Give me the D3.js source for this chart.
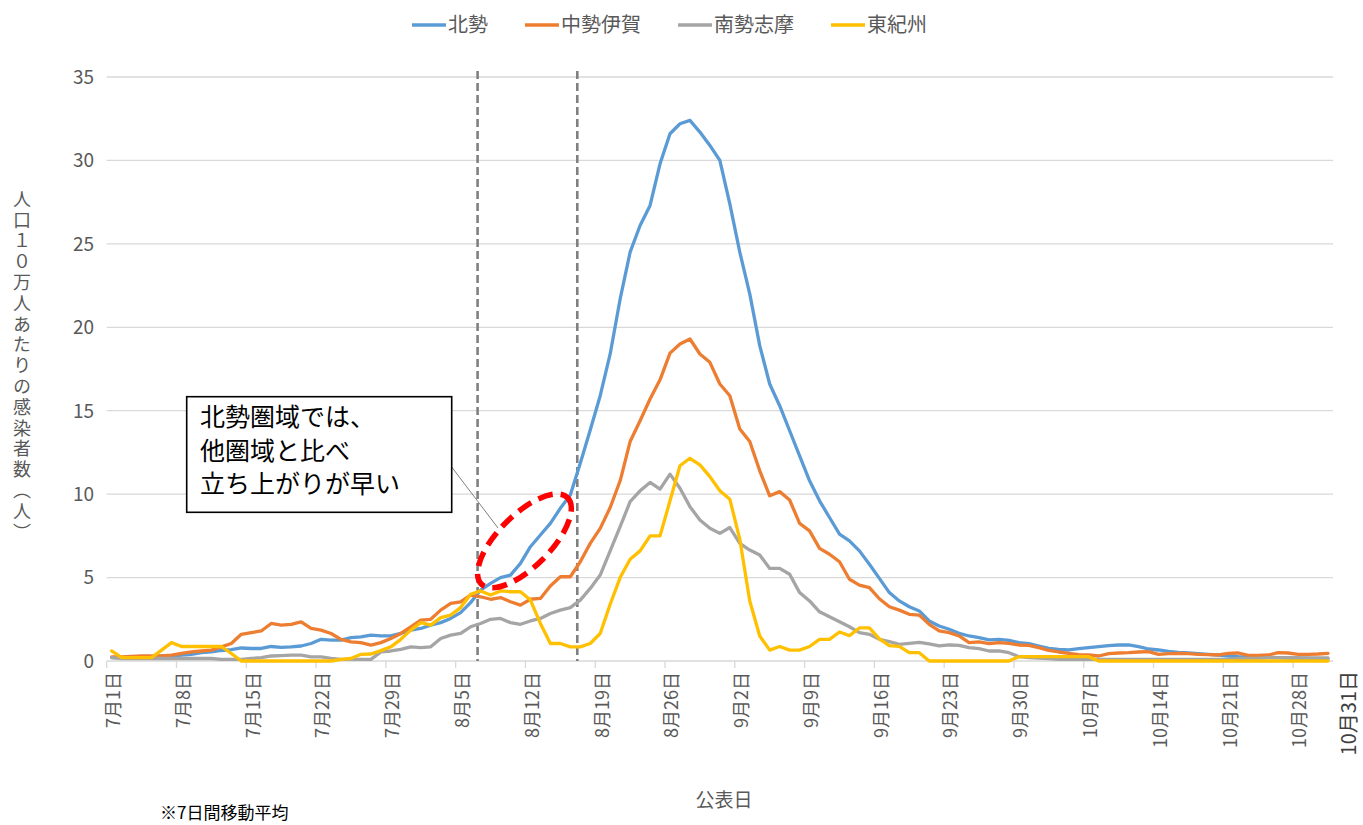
<!DOCTYPE html>
<html><head><meta charset="utf-8">
<script src="https://cdn.jsdelivr.net/npm/d3@7"></script>
<style>
html,body{margin:0;padding:0;background:#fff;}
svg{display:block;font-family:"Noto Sans CJK JP","Noto Sans",sans-serif;}
</style></head>
<body><svg id="c" width="1363" height="825"></svg>
<script>
// ---- data (7-day moving average, per 100k population), 2021-07-01 .. 2021-10-31 ----
const seriesNames = ["北勢","中勢伊賀","南勢志摩","東紀州"];
const seriesColors = ["#5B9BD5","#ED7D31","#A5A5A5","#FFC000"];
const hokusei = [0.2,0.2,0.2,0.2,0.25,0.3,0.3,0.35,0.4,0.5,0.55,0.63,0.68,0.78,0.75,0.75,0.87,0.82,0.85,0.9,
 1.05,1.3,1.25,1.25,1.4,1.45,1.55,1.5,1.5,1.65,1.85,1.95,2.15,2.3,2.55,2.9,3.5,4.25,4.65,5.0,
 5.15,5.85,6.85,7.55,8.25,9.15,9.95,11.85,13.85,15.9,18.4,21.7,24.5,26.1,27.3,29.8,31.6,32.2,32.4,31.7,
 30.9,30.0,27.4,24.5,22.0,18.9,16.6,15.3,13.8,12.3,10.8,9.6,8.6,7.6,7.2,6.6,5.8,4.95,4.1,3.6,
 3.25,3.0,2.4,2.1,1.9,1.66,1.5,1.4,1.26,1.3,1.24,1.1,1.04,0.9,0.76,0.7,0.66,0.74,0.8,0.86,
 0.92,0.96,0.96,0.86,0.72,0.66,0.58,0.52,0.48,0.44,0.4,0.36,0.3,0.26,0.24,0.22,0.22,0.2,0.18,0.16,
 0.15,0.14,0.14];
const chuseiIga = [0.25,0.25,0.28,0.3,0.3,0.3,0.35,0.45,0.55,0.6,0.65,0.85,1.05,1.6,1.7,1.8,2.25,2.15,2.2,2.35,
 1.95,1.85,1.65,1.3,1.15,1.1,0.95,1.1,1.35,1.65,2.05,2.45,2.5,3.05,3.45,3.55,3.95,3.85,3.7,3.8,
 3.55,3.35,3.7,3.75,4.5,5.05,5.05,5.95,7.05,7.95,9.2,10.8,13.15,14.4,15.7,16.85,18.45,19.0,19.3,18.4,
 17.9,16.6,15.9,13.9,13.15,11.4,9.9,10.15,9.65,8.25,7.8,6.75,6.4,5.95,4.9,4.55,4.4,3.73,3.25,3.05,
 2.8,2.75,2.2,1.8,1.7,1.5,1.1,1.14,1.04,1.1,1.06,0.96,0.94,0.8,0.64,0.54,0.46,0.38,0.36,0.3,
 0.44,0.48,0.5,0.54,0.56,0.4,0.44,0.46,0.44,0.4,0.38,0.36,0.46,0.48,0.34,0.34,0.36,0.5,0.48,0.4,
 0.4,0.42,0.46];
const nanseiShima = [0.2,0.15,0.15,0.15,0.15,0.15,0.15,0.15,0.15,0.15,0.15,0.1,0.1,0.1,0.15,0.2,0.3,0.32,0.35,0.35,
 0.25,0.25,0.15,0.1,0.1,0.1,0.1,0.55,0.6,0.7,0.85,0.8,0.85,1.35,1.55,1.65,2.05,2.25,2.5,2.55,
 2.3,2.2,2.4,2.55,2.85,3.05,3.2,3.65,4.35,5.15,6.6,8.05,9.55,10.2,10.7,10.3,11.2,10.35,9.25,8.45,
 7.95,7.65,8.0,7.05,6.65,6.35,5.55,5.55,5.2,4.1,3.6,2.95,2.65,2.35,2.05,1.7,1.6,1.3,1.16,1.0,
 1.06,1.12,1.02,0.9,0.96,0.94,0.8,0.74,0.6,0.6,0.5,0.26,0.2,0.18,0.14,0.1,0.1,0.1,0.1,0.1,
 0.1,0.1,0.1,0.1,0.1,0.1,0.1,0.1,0.1,0.1,0.1,0.1,0.1,0.15,0.15,0.15,0.2,0.2,0.2,0.2,
 0.18,0.18,0.18];
const higashiKishu = [0.6,0.2,0.2,0.2,0.2,0.65,1.1,0.87,0.87,0.87,0.87,0.87,0.45,0,0,0,0,0,0,0,
 0,0,0,0.1,0.15,0.4,0.42,0.62,0.85,1.3,1.85,2.3,2.15,2.6,2.75,3.2,4.0,4.2,3.95,4.2,
 4.15,4.15,3.65,2.25,1.05,1.05,0.85,0.85,1.05,1.65,3.4,5.0,6.1,6.6,7.5,7.5,9.6,11.7,12.15,11.75,
 11.05,10.2,9.7,7.3,3.6,1.5,0.65,0.87,0.65,0.65,0.87,1.3,1.3,1.74,1.52,1.98,1.98,1.32,0.92,0.88,
 0.5,0.5,0,0,0,0,0,0,0,0,0,0.26,0.26,0.26,0.26,0.26,0.26,0.26,0.26,0,
 0,0,0,0,0,0,0,0,0,0,0,0,0,0,0,0,0,0,0,0,
 0,0,0];
const tickLabels = ["7月1日","7月8日","7月15日","7月22日","7月29日","8月5日","8月12日","8月19日","8月26日",
 "9月2日","9月9日","9月16日","9月23日","9月30日","10月7日","10月14日","10月21日","10月28日"];
const tickDayIndex = [0,7,14,21,28,35,42,49,56,63,70,77,84,91,98,105,112,119];
const endLabel = "10月31日";
const yTicks = [0,5,10,15,20,25,30,35];
const markerDays = [37,47];          // dashed vertical markers (8/7, 8/17)
const allSeries = [hokusei, chuseiIga, nanseiShima, higashiKishu];

// ---- layout ----
const svg = d3.select("#c");
const L = 106.7, R = 1333, T = 77, B = 661;
const nDays = hokusei.length;
const x = d3.scaleBand().domain(d3.range(nDays)).range([L, R]).paddingInner(0).paddingOuter(0);
const y = d3.scaleLinear().domain([0,35]).range([B, T]);
const cx = i => x(i) + x.bandwidth()/2;
const grey = "#595959";

// gridlines
svg.append("g").selectAll("line").data(yTicks.filter(v=>v>0)).join("line")
  .attr("x1", L).attr("x2", R).attr("y1", d=>y(d)).attr("y2", d=>y(d))
  .attr("stroke", "#D9D9D9").attr("stroke-width", 1.3);

// y tick labels
svg.append("g").selectAll("text").data(yTicks).join("text")
  .attr("x", 94).attr("y", d=>y(d)).attr("dy","0.36em").attr("text-anchor","end")
  .attr("font-size", 19).attr("fill", grey).text(d=>d);

// x axis line and ticks
svg.append("line").attr("x1",L).attr("x2",R).attr("y1",B).attr("y2",B).attr("stroke","#D9D9D9").attr("stroke-width",1.3);
svg.append("g").selectAll("line").data(tickDayIndex).join("line")
  .attr("x1", d=>x(d)).attr("x2", d=>x(d)).attr("y1", B).attr("y2", B+7)
  .attr("stroke","#D9D9D9").attr("stroke-width",1.3);

// x tick labels (rotated)
svg.append("g").selectAll("text").data(tickDayIndex).join("text")
  .attr("transform", (d)=>`translate(${cx(d)+2},${B+11}) rotate(-90)`)
  .attr("text-anchor","end").attr("dy","0.35em")
  .attr("font-size", 18).attr("fill", grey)
  .text((d,i)=>tickLabels[i]);
svg.append("text")
  .attr("transform", `translate(${cx(nDays-1)+21},${B+10}) rotate(-90)`)
  .attr("text-anchor","end").attr("dy","0.35em")
  .attr("font-size", 20).attr("fill", "#404040").text(endLabel);

// dashed markers
svg.append("g").selectAll("line").data(markerDays).join("line")
  .attr("x1", d=>x(d)+2).attr("x2", d=>x(d)+2).attr("y1", 71).attr("y2", B)
  .attr("stroke","#808080").attr("stroke-width",2.6).attr("stroke-dasharray","8,4");

// series lines
const line = d3.line().x((d,i)=>cx(i)).y(d=>y(d));
svg.append("g").selectAll("path").data(allSeries).join("path")
  .attr("d", d=>line(d)).attr("fill","none")
  .attr("stroke",(d,i)=>seriesColors[i]).attr("stroke-width",3.3)
  .attr("stroke-linejoin","round").attr("stroke-linecap","round");

// red dashed ellipse annotation
const ex = cx(41) + 4, ey = y(7.2);
svg.append("ellipse").attr("cx",0).attr("cy",0).attr("rx",61).attr("ry",26)
  .attr("transform",`translate(${ex},${ey}) rotate(-45)`)
  .attr("fill","none").attr("stroke","#FF0000").attr("stroke-width",5.5)
  .attr("stroke-dasharray","15,8");

// callout box
const bx0 = 186.7, by0 = 396.7, bx1 = 451.7, by1 = 512.3;
svg.append("line").attr("x1",bx1).attr("y1",467).attr("x2",498).attr("y2",528)
  .attr("stroke","#7F7F7F").attr("stroke-width",1);
svg.append("rect").attr("x",bx0).attr("y",by0).attr("width",bx1-bx0).attr("height",by1-by0)
  .attr("fill","#fff").attr("stroke","#000").attr("stroke-width",1.6);
const calloutLines = ["北勢圏域では、","他圏域と比べ","立ち上がりが早い"];
svg.append("g").selectAll("text").data(calloutLines).join("text")
  .attr("x", 200).attr("y",(d,i)=>417 + i*33.5).attr("dy","0.36em")
  .attr("font-size", 25).attr("fill","#000").text(d=>d);

// y axis title (vertical)
svg.append("text").attr("x",22).attr("y",190)
  .attr("style","writing-mode:vertical-rl;text-orientation:mixed;letter-spacing:2.8px")
  .attr("font-size",18).attr("fill",grey)
  .text("人口１０万人あたりの感染者数（人）");

// x axis title and note
svg.append("text").attr("x",724).attr("y",800).attr("dy","0.36em").attr("text-anchor","middle")
  .attr("font-size",19).attr("fill",grey).text("公表日");
svg.append("text").attr("x",160).attr("y",813).attr("dy","0.36em")
  .attr("font-size",17).attr("fill","#000").text("※7日間移動平均");

// legend
const lg = svg.append("g");
let lx = 0;
seriesNames.forEach((n,i)=>{
  const g = lg.append("g").attr("transform",`translate(${lx},0)`);
  g.append("line").attr("x1",0).attr("x2",34).attr("y1",0).attr("y2",0)
    .attr("stroke",seriesColors[i]).attr("stroke-width",3.3);
  const t = g.append("text").attr("x",36).attr("dy","0.36em").attr("font-size",20)
    .attr("fill",grey).text(n);
  const w = 36 + t.node().getComputedTextLength();
  lx += w + 37;
});
const totalW = lx - 37;
lg.attr("transform",`translate(${669.5 - totalW/2},25)`);
</script></body></html>
